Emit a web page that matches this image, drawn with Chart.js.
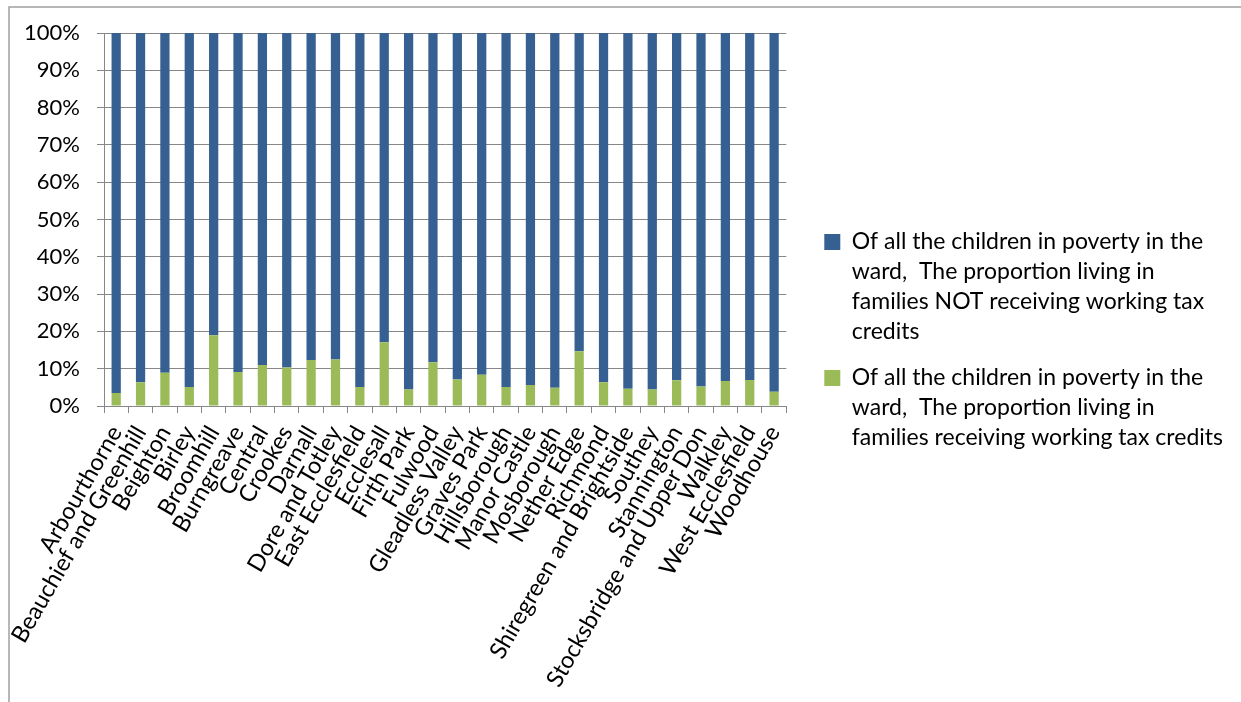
<!DOCTYPE html>
<html>
<head>
<meta charset="utf-8">
<title>Children in poverty by ward</title>
<script src="https://cdn.jsdelivr.net/npm/chart.js@4/dist/chart.umd.min.js"></script>
<style>
	html, body { margin: 0; padding: 0; background: #ffffff; }
	#wrap { width: 1241px; height: 702px; }
</style>
</head>
<body>
<div id="wrap"><canvas id="wardChart" width="1241" height="702"></canvas></div>
<script>
	// wards, in the order they appear along the axis
	var wards = ['Arbourthorne', 'Beauchief and Greenhill', 'Beighton', 'Birley', 'Broomhill', 'Burngreave', 'Central', 'Crookes', 'Darnall', 'Dore and Totley', 'East Ecclesfield', 'Ecclesall', 'Firth Park', 'Fulwood', 'Gleadless Valley', 'Graves Park', 'Hillsborough', 'Manor Castle', 'Mosborough', 'Nether Edge', 'Richmond', 'Shiregreen and Brightside', 'Southey', 'Stannington', 'Stocksbridge and Upper Don', 'Walkley', 'West Ecclesfield', 'Woodhouse'];

	// % of children in poverty in families receiving working tax credits
	var receiving = [3.5, 6.4, 8.9, 5.1, 19.0, 9.1, 11.0, 10.3, 12.3, 12.5, 5.1, 17.1, 4.4, 11.7, 7.1, 8.4, 5.1, 5.6, 4.9, 14.7, 6.4, 4.6, 4.4, 6.9, 5.2, 6.7, 7.0, 3.8];

	// % of children in poverty in families NOT receiving working tax credits
	var notReceiving = [96.5, 93.6, 91.1, 94.9, 81.0, 90.9, 89.0, 89.7, 87.7, 87.5, 94.9, 82.9, 95.6, 88.3, 92.9, 91.6, 94.9, 94.4, 95.1, 85.3, 93.6, 95.4, 95.6, 93.1, 94.8, 93.3, 93.0, 96.2];

	var yTicks = [0, 10, 20, 30, 40, 50, 60, 70, 80, 90, 100];

	var seriesNames = [
		'Of all the children in poverty in the ward,  The proportion living in families receiving working tax credits',
		'Of all the children in poverty in the ward,  The proportion living in families NOT receiving working tax credits'
	];

	// legend text broken into lines
	var legendLines = [
		['Of all the children in poverty in the', 'ward,  The proportion living in', 'families receiving working tax credits'],
		['Of all the children in poverty in the', 'ward,  The proportion living in', 'families NOT receiving working tax', 'credits']
	];

	var GRID = '#878787';

	Chart.defaults.font.family = 'Lato, "Open Sans", sans-serif';
	Chart.defaults.color = '#000000';

	// white background plus the thin frame round the chart
	var frame = {
		id: 'frame',
		beforeDraw: function(chart) {
			var ctx = chart.ctx;
			ctx.save();
			ctx.fillStyle = '#ffffff';
			ctx.fillRect(0, 0, chart.width, chart.height);
			ctx.strokeStyle = '#a0a0a0';
			ctx.lineWidth = 1.5;
			ctx.beginPath();
			ctx.moveTo(9, chart.height);
			ctx.lineTo(9, 7);
			ctx.lineTo(chart.width, 7);
			ctx.stroke();
			ctx.restore();
		}
	};

	// the legend sits a little above the middle of the canvas
	var legendLift = {
		id: 'legendLift',
		afterLayout: function(chart) {
			chart.legend.top -= 24;
			chart.legend.bottom -= 24;
		}
	};

	var chart = new Chart(document.getElementById('wardChart'), {
		type: 'bar',
		data: {
			labels: wards,
			datasets: [
				{
					label: seriesNames[0],
					data: receiving,
					backgroundColor: '#9BBB59',
					borderWidth: 0,
					barPercentage: 0.38,
					categoryPercentage: 1
				},
				{
					label: seriesNames[1],
					data: notReceiving,
					backgroundColor: '#376092',
					borderWidth: 0,
					barPercentage: 0.38,
					categoryPercentage: 1
				}
			]
		},
		options: {
			responsive: false,
			animation: false,
			layout: { padding: { top: 33, right: 8, bottom: 0, left: 0 } },
			plugins: {
				tooltip: { enabled: false },
				legend: {
					position: 'right',
					reverse: true,
					maxWidth: 470,
					labels: {
						boxWidth: 16,
						boxHeight: 16,
						padding: 16,
						font: { size: 23, lineHeight: 1.304 },
						color: '#000000',
						generateLabels: function(c) {
							var items = Chart.defaults.plugins.legend.labels.generateLabels(c);
							items.forEach(function(item) {
								item.text = legendLines[item.datasetIndex];
								item.lineWidth = 0;
							});
							return items;
						}
					}
				}
			},
			scales: {
				x: {
					stacked: true,
					grid: { display: true, drawOnChartArea: false, drawTicks: true, tickLength: 7, color: GRID, offset: true },
					border: { display: true, color: GRID, width: 1 },
					ticks: { autoSkip: false, minRotation: 60, maxRotation: 60, padding: 8, font: { size: 23.5 } },
					afterFit: function(s) { s.height = 296; }
				},
				y: {
					stacked: true,
					min: 0,
					max: 100,
					afterBuildTicks: function(s) {
						s.ticks = yTicks.map(function(v) { return { value: v }; });
					},
					grid: { color: GRID, tickLength: 7 },
					border: { display: true, color: GRID, width: 1 },
					ticks: {
						padding: 17,
						font: { size: 22 },
						callback: function(v) { return v + '%'; }
					},
					afterFit: function(s) { s.width = 104; }
				},
				// keeps some white space between the plot and the legend
				gap: {
					position: 'right',
					display: true,
					grid: { display: false },
					border: { display: false },
					ticks: { display: false },
					afterFit: function(s) { s.width = 22; }
				}
			}
		},
		plugins: [frame, legendLift]
	});
</script>
</body>
</html>
